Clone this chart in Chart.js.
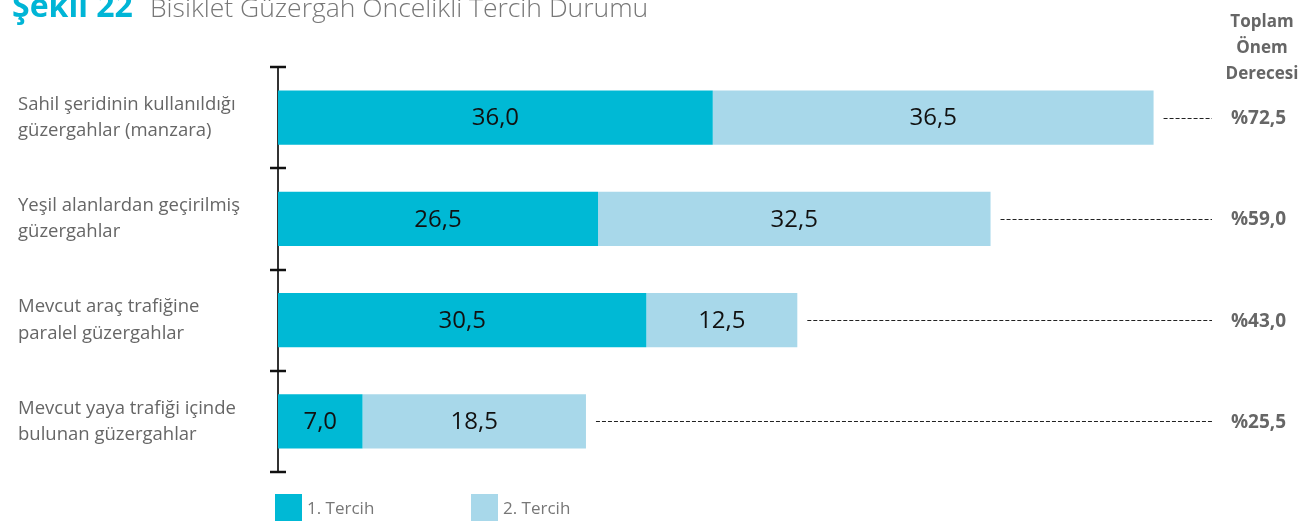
<!DOCTYPE html>
<html><head><meta charset="utf-8">
<script src="https://cdn.jsdelivr.net/npm/chart.js@4/dist/chart.umd.min.js"></script>
<style>html,body{margin:0;padding:0;background:#fff}#wrap{width:1303px;height:525px;position:relative}</style>
</head><body><div id="wrap"><canvas id="c" width="1303" height="525"></canvas></div>
<script>
const categories = [
  ["Sahil şeridinin kullanıldığı","güzergahlar (manzara)"],
  ["Yeşil alanlardan geçirilmiş","güzergahlar"],
  ["Mevcut araç trafiğine","paralel güzergahlar"],
  ["Mevcut yaya trafiği içinde","bulunan güzergahlar"]
];
const tercih1 = [36.0, 26.5, 30.5, 7.0];
const tercih2 = [36.5, 32.5, 12.5, 18.5];
const totals = [72.5, 59.0, 43.0, 25.5];
const seriesNames = ["1. Tercih", "2. Tercih"];
const headerLines = ["Toplam", "Önem", "Derecesi"];
const titleBold = "Şekil 22";
const titleText = "Bisiklet Güzergah Öncelikli Tercih Durumu";

const C1 = "#00b9d5", C2 = "#a8d8ea";
const FONT = "'Open Sans', 'Noto Sans', sans-serif";
const fmt = v => v.toFixed(1).replace('.', ',');

const extras = {
  id: 'extras',
  afterDatasetsDraw(chart) {
    const ctx = chart.ctx, x = chart.scales.x, y = chart.scales.y;
    ctx.save();
    // value labels
    ctx.font = "24px " + FONT; ctx.fillStyle = "#111"; ctx.textAlign = "center"; ctx.textBaseline = "middle";
    chart.data.datasets.forEach((ds, di) => {
      chart.getDatasetMeta(di).data.forEach((bar, i) => {
        const p = bar.getProps(['x','y','base'], true);
        ctx.fillText(fmt(ds.data[i]), (p.x + p.base) / 2, p.y + 1);
      });
    });
    // tick marks
    const n = categories.length;
    const band = (y.getPixelForValue(1) - y.getPixelForValue(0));
    ctx.strokeStyle = "#111"; ctx.lineWidth = 2.5;
    for (let i = 0; i <= n; i++) {
      const py = Math.round(y.getPixelForValue(i) - band / 2);
      ctx.beginPath(); ctx.moveTo(x.left - 8, py); ctx.lineTo(x.left + 8, py); ctx.stroke();
    }
    // dashed lines & totals
    ctx.strokeStyle = "#222"; ctx.lineWidth = 1; ctx.setLineDash([4, 2]);
    totals.forEach((t, i) => {
      const py = Math.round(y.getPixelForValue(i)) + 0.5;
      ctx.beginPath(); ctx.moveTo(x.getPixelForValue(t) + 10, py); ctx.lineTo(1212, py); ctx.stroke();
    });
    ctx.setLineDash([]);
    ctx.font = "bold 19px " + FONT; ctx.fillStyle = "#666"; ctx.textAlign = "left";
    totals.forEach((t, i) => ctx.fillText("%" + fmt(t), 1231, y.getPixelForValue(i) + 1));
    // header
    ctx.font = "bold 17px " + FONT;
    ctx.textAlign = "center";
    headerLines.forEach((l, i) => ctx.fillText(l, 1262, 22 + i * 26));
    // title
    ctx.textAlign = "left"; ctx.textBaseline = "alphabetic";
    ctx.font = "bold 32px " + FONT; ctx.fillStyle = "#00b5d6";
    ctx.fillText(titleBold, 12, 17);
    const w = ctx.measureText(titleBold).width;
    ctx.font = "300 26.5px " + FONT; ctx.fillStyle = "#777";
    ctx.fillText(titleText, 150, 17);
    // legend
    const lx = [275, 471];
    ctx.font = "17px " + FONT; ctx.textBaseline = "middle";
    [C1, C2].forEach((c, i) => {
      ctx.fillStyle = c; ctx.fillRect(lx[i], 494, 27, 27);
      ctx.fillStyle = "#777"; ctx.fillText(seriesNames[i], lx[i] + 32, 509);
    });
    ctx.restore();
  }
};

new Chart(document.getElementById('c'), {
  type: 'bar',
  data: {
    labels: categories,
    datasets: [
      { label: seriesNames[0], data: tercih1, backgroundColor: C1 },
      { label: seriesNames[1], data: tercih2, backgroundColor: C2 }
    ]
  },
  options: {
    indexAxis: 'y',
    responsive: false,
    animation: false,
    events: [],
    layout: { padding: { left: 18, right: 83, top: 67, bottom: 53 } },
    datasets: { bar: { categoryPercentage: 1, barPercentage: 0.535 } },
    plugins: { legend: { display: false }, tooltip: { enabled: false } },
    scales: {
      x: { stacked: true, display: false, min: 0, max: 78 },
      y: {
        stacked: true,
        grid: { display: false },
        border: { display: true, color: "#333", width: 2 },
        ticks: { crossAlign: 'far', color: "#666", font: { family: FONT, size: 18.5, lineHeight: 1.42 }, padding: 0 },
        afterFit(s) { s.width = 260; }
      }
    }
  },
  plugins: [extras]
});
</script></body></html>
